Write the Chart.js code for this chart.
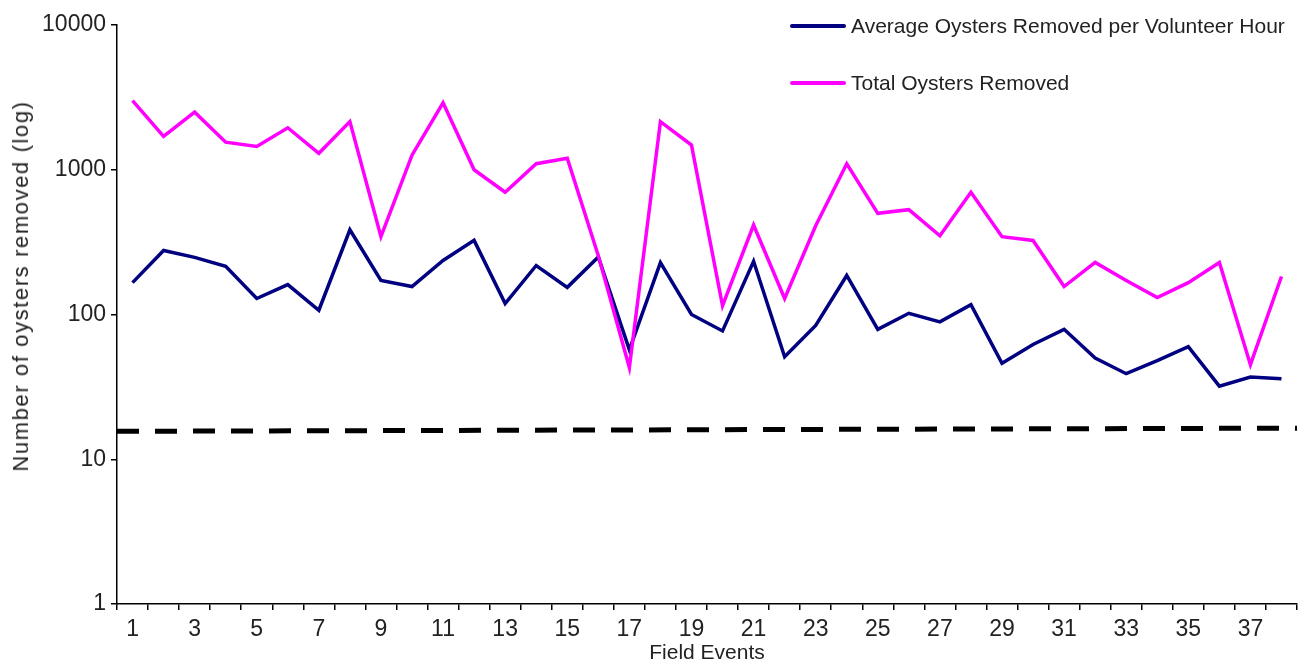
<!DOCTYPE html>
<html lang="en">
<head>
<meta charset="UTF-8">
<title>Oysters Removed</title>
<script src="https://cdn.jsdelivr.net/npm/chart.js"></script>
<style>
  * { margin: 0; padding: 0; box-sizing: border-box; }
  body { background: #fff; font-family: 'Liberation Sans', Arial, sans-serif; color: #222; }
  .wrap { position: relative; width: 1299px; height: 666px; }
  .legend { position: absolute; left: 790px; top: 12px; font-size: 21px; }
  .legend div { display: flex; align-items: center; height: 28px; margin-bottom: 29px; }
  .legend span.line { display: inline-block; width: 56px; height: 4px; margin-right: 5px; border-radius: 2px; }
  .ytitle { position: absolute; left: 21px; top: 286px; font-size: 22px; letter-spacing: 1.6px; white-space: nowrap;
            transform: translate(-50%, -50%) rotate(-90deg); }
</style>
</head>
<body>
<div class="wrap">
  <canvas id="chart"></canvas>
  <div class="legend">
    <div><span class="line" style="background:#000080"></span>Average Oysters Removed per Volunteer Hour</div>
    <div><span class="line" style="background:#ff00ff"></span>Total Oysters Removed</div>
  </div>
  <div class="ytitle">Number of oysters removed (log)</div>
</div>
<script>
  // field events 1..38
  const events = ['1','2','3','4','5','6','7','8','9','10','11','12','13','14','15','16','17','18','19',
                  '20','21','22','23','24','25','26','27','28','29','30','31','32','33','34','35','36','37','38'];

  const totalRemoved = [3000, 1700, 2500, 1550, 1450, 1950, 1300, 2150, 345, 1260,
                        2900, 1000, 700, 1100, 1200, 255, 43, 2150, 1480, 115,
                        415, 129, 410, 1100, 500, 530, 350, 700, 345, 325,
                        156, 229, 172, 131, 166, 229, 45, 183];

  const avgPerHour = [166, 277, 248, 215, 129, 161, 107, 385, 172, 156,
                      236, 325, 119, 218, 154, 250, 57, 228, 100, 77,
                      233, 51, 84, 186, 79, 102, 89, 117, 46, 62,
                      79, 50, 39, 48, 60, 32, 37, 36];

  // dashed reference line, start and end values
  const trendX = [0.5, 38.5];
  const trendY = [15.6, 16.4];

  const yTicks = [1, 10, 100, 1000, 10000];

  const textColor = '#222';
  const fontFamily = "'Liberation Sans', Arial, sans-serif";
  const tickFont = { family: fontFamily, size: 23 };
  const titleFont = { family: fontFamily, size: 21 };

  new Chart(document.getElementById('chart'), {
    type: 'line',
    data: {
      labels: events,
      datasets: [
        {
          label: 'Total Oysters Removed',
          data: totalRemoved,
          borderColor: '#ff00ff',
          borderWidth: 3.5,
          pointRadius: 0,
          tension: 0
        },
        {
          label: 'Average Oysters Removed per Volunteer Hour',
          data: avgPerHour,
          borderColor: '#000080',
          borderWidth: 3.5,
          pointRadius: 0,
          tension: 0
        },
        {
          label: 'trend',
          data: trendX.map((x, i) => ({ x: x, y: trendY[i] })),
          xAxisID: 'xl',
          borderColor: '#000',
          borderWidth: 5,
          borderDash: [22, 16],
          borderCapStyle: 'butt',
          pointRadius: 0
        }
      ]
    },
    options: {
      responsive: true,
      maintainAspectRatio: false,
      animation: false,
      layout: { padding: { top: 25, right: 2, left: 0, bottom: 0 } },
      plugins: { legend: { display: false }, tooltip: { enabled: false } },
      scales: {
        x: {
          type: 'category',
          offset: true,
          grid: { offset: true, drawOnChartArea: false, tickLength: 6, color: '#000', lineWidth: 1.5 },
          border: { display: true, color: '#000', width: 1.5 },
          ticks: {
            autoSkip: false,
            maxRotation: 0,
            padding: 6,
            color: textColor,
            font: tickFont,
            callback: function (v, i) { return i % 2 === 0 ? events[i] : ''; }
          },
          title: { display: true, text: 'Field Events', color: textColor, font: titleFont, padding: { top: 0, bottom: 0 } },
          afterFit: function (s) { s.height = 62; }
        },
        xl: {
          type: 'linear',
          display: false,
          min: 0.5,
          max: 38.5
        },
        y: {
          type: 'logarithmic',
          min: 1,
          max: 10000,
          grid: { drawOnChartArea: false, tickLength: 6, color: '#000', lineWidth: 1.5 },
          border: { display: true, color: '#000', width: 1.5 },
          ticks: {
            padding: 5,
            color: textColor,
            font: tickFont,
            callback: function (v) { return String(v); }
          },
          afterBuildTicks: function (s) { s.ticks = yTicks.map(v => ({ value: v })); },
          afterFit: function (s) { s.width = 117; }
        }
      }
    }
  });
</script>
</body>
</html>
